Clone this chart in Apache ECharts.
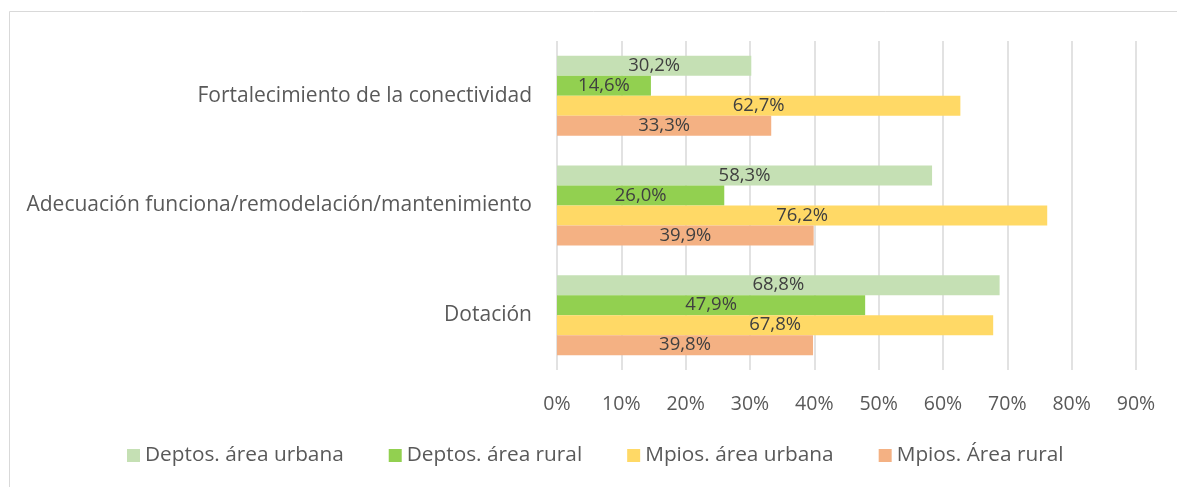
<!DOCTYPE html>
<html><head><meta charset="utf-8">
<script src="https://cdn.jsdelivr.net/npm/echarts@6/dist/echarts.min.js"></script>
<style>html,body{margin:0;padding:0;background:#fff}#c{width:1177px;height:487px}</style>
</head><body><div id="c"></div>
<script>
const categories = ['Fortalecimiento de la conectividad', 'Adecuación funciona/remodelación/mantenimiento', 'Dotación'];
const seriesNames = ['Deptos. área urbana', 'Deptos. área rural', 'Mpios. área urbana', 'Mpios. Área rural'];
const deptosUrbana = [30.2, 58.3, 68.8];
const deptosRural = [14.6, 26.0, 47.9];
const mpiosUrbana = [62.7, 76.2, 67.8];
const mpiosRural = [33.3, 39.9, 39.8];
const colors = ['#C5E0B4', '#92D050', '#FFD966', '#F4B183'];
const xTicks = [0, 10, 20, 30, 40, 50, 60, 70, 80, 90];

const FONT = "'Open Sans', sans-serif";
const values = [deptosUrbana, deptosRural, mpiosUrbana, mpiosRural];
const chart = echarts.init(document.getElementById('c'), null, {renderer: 'canvas'});
chart.setOption({
  animation: false,
  textStyle: {fontFamily: FONT},
  graphic: [{type: 'rect', shape: {x: 9.5, y: 11.5, width: 1200, height: 520}, style: {fill: 'none', stroke: '#d9d9d9', lineWidth: 1}, silent: true}],
  legend: {
    data: seriesNames,
    bottom: 16, left: 122,
    itemWidth: 13, itemHeight: 13, itemGap: 45,
    icon: 'rect',
    textStyle: {fontFamily: FONT, fontSize: 20.8, color: '#595959'}
  },
  grid: {left: 557, right: 41, top: 41, bottom: 117, containLabel: false},
  xAxis: {
    type: 'value', min: xTicks[0], max: xTicks[xTicks.length - 1], interval: 10,
    axisLine: {show: false}, axisTick: {show: false},
    splitLine: {lineStyle: {color: '#d9d9d9', width: 1.5}},
    axisLabel: {formatter: '{value}%', fontFamily: FONT, fontSize: 19.5, color: '#595959', margin: 24}
  },
  yAxis: {
    type: 'category', data: categories, inverse: true,
    axisLine: {show: false}, axisTick: {show: false},
    axisLabel: {fontFamily: FONT, fontSize: 21, color: '#595959', margin: 25}
  },
  series: seriesNames.map((n, i) => ({
    name: n, type: 'bar', data: values[i], barWidth: 20, barGap: '0%',
    itemStyle: {color: colors[i]},
    label: {show: true, position: 'inside', color: '#404040', fontFamily: FONT, fontSize: 18.5,
      formatter: p => p.value.toFixed(1).replace('.', ',') + '%'}
  }))
});
</script></body></html>
